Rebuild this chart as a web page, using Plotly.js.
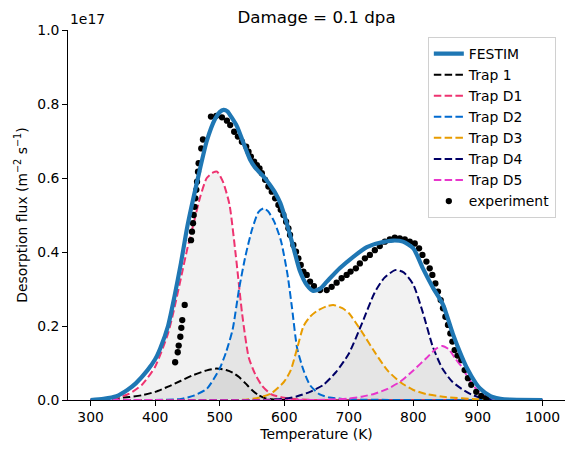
<!DOCTYPE html>
<html>
<head>
<meta charset="utf-8">
<script src="https://cdn.plot.ly/plotly-3.0.1.min.js"></script>
<style>html,body{margin:0;padding:0;background:#fff;}#chart{width:575px;height:453px;}</style>
</head>
<body>
<div id="chart"></div>
<script>
// values in units of 1e17 m^-2 s^-1
const festimT = [300,320,340,357,370,388,400,408,420,430,440,450,465,480,493,500,506,512,518,527,537,547,555,563,570,578,586,594,604,614,624,635,645,655,666,686,707,728,748,769,784,800,815,830,846,861,872,882,897,903,918,923,935,950,1000];
const festimY = [0,0.003,0.01,0.027,0.045,0.08,0.11,0.14,0.2,0.28,0.37,0.47,0.59,0.70,0.76,0.778,0.784,0.78,0.765,0.739,0.694,0.65,0.628,0.613,0.6,0.581,0.56,0.532,0.477,0.414,0.35,0.311,0.295,0.3,0.32,0.356,0.387,0.413,0.425,0.431,0.428,0.41,0.355,0.305,0.258,0.18,0.13,0.09,0.045,0.032,0.012,0.008,0.003,0.001,0];

const trap1T = [300,320,340,360,380,400,420,440,460,480,495,510,520,530,540,550,560,570,580,600,1000];
const trap1Y = [0.0005,0.002,0.005,0.008,0.013,0.022,0.036,0.052,0.068,0.08,0.085,0.081,0.074,0.062,0.045,0.027,0.013,0.005,0.002,0,0];

const trapD1T = [300,320,340,360,380,400,420,430,440,450,460,470,480,490,496,505,515,525,535,545,555,565,580,600,620,650,1000];
const trapD1Y = [0,0.001,0.005,0.017,0.042,0.09,0.18,0.25,0.33,0.41,0.48,0.55,0.6,0.615,0.617,0.59,0.53,0.39,0.23,0.115,0.07,0.04,0.015,0.006,0.002,0,0];

const trapD2T = [300,400,440,460,480,500,510,520,530,540,550,560,568,575,585,595,605,612,620,630,640,655,670,690,720,800,1000];
const trapD2Y = [0,0,0.003,0.012,0.03,0.085,0.13,0.19,0.3,0.39,0.46,0.508,0.518,0.51,0.48,0.43,0.34,0.25,0.14,0.08,0.04,0.015,0.007,0.003,0.001,0,0];

const trapD3T = [300,540,560,580,600,610,620,630,640,650,665,676,690,700,720,740,760,780,800,820,850,900,950,1000];
const trapD3Y = [0,0.001,0.006,0.018,0.05,0.08,0.14,0.2,0.225,0.24,0.253,0.257,0.248,0.235,0.185,0.13,0.08,0.048,0.027,0.016,0.008,0.002,0,0];

const trapD4T = [300,560,600,620,640,660,680,700,720,740,755,772,785,800,815,830,845,860,875,890,905,920,950,1000];
const trapD4Y = [0,0,0.003,0.01,0.022,0.04,0.075,0.125,0.205,0.29,0.33,0.351,0.345,0.312,0.235,0.145,0.085,0.05,0.03,0.015,0.006,0.002,0,0];

const trapD5T = [300,650,680,700,720,740,760,780,800,820,835,845,855,865,875,885,895,905,915,930,950,1000];
const trapD5Y = [0,0,0.002,0.004,0.009,0.017,0.03,0.05,0.08,0.113,0.138,0.146,0.137,0.112,0.09,0.06,0.035,0.016,0.007,0.002,0,0];

const expT = [431,435,436.5,439,440.6,442,445.8,455.6,457.1,458.7,459.7,461.2,462.3,463.8,464.9,466.4,467.4,471.5,474.1,486.5,494.7,503.5,511.2,516.3,522.5,528.2,534.4,541.1,544.7,548.3,553.4,557.6,561.7,565.3,570.4,575.5,580.7,585.9,591,594.6,598.7,602.9,606.5,609,614.2,618.3,621.9,625.6,629.7,634.9,640,646,655.4,665.8,673.5,681.2,688.9,696.7,702.8,711,717.2,725,732.7,740.4,748.1,755.9,763.6,771.3,779,786.8,794.5,802.2,808.9,814.1,820.3,825.4,829.5,834.2,838.2,842.4,846,849.7,853.7,857.4,860.5,864,868.5,874.3,879.5,884.6,889.8,897.5,905.3,913];
const expY = [0.102,0.129,0.147,0.171,0.195,0.216,0.257,0.432,0.455,0.478,0.5,0.522,0.545,0.568,0.59,0.617,0.64,0.68,0.704,0.766,0.768,0.764,0.755,0.743,0.725,0.712,0.698,0.685,0.671,0.658,0.644,0.635,0.626,0.613,0.595,0.577,0.563,0.545,0.527,0.514,0.5,0.482,0.464,0.446,0.419,0.401,0.383,0.365,0.347,0.338,0.32,0.308,0.297,0.297,0.306,0.317,0.329,0.338,0.347,0.356,0.369,0.383,0.392,0.405,0.416,0.428,0.434,0.439,0.437,0.434,0.428,0.423,0.41,0.392,0.374,0.356,0.338,0.315,0.293,0.27,0.248,0.225,0.203,0.18,0.158,0.135,0.12,0.108,0.081,0.059,0.041,0.022,0.011,0.005];

const xTicks = [300,400,500,600,700,800,900,1000];
const yTicks = [0,0.2,0.4,0.6,0.8,1.0];

const traps = [
  {name:'Trap 1', x:trap1T, y:trap1Y, color:'#000000'},
  {name:'Trap D1', x:trapD1T, y:trapD1Y, color:'#ee3370'},
  {name:'Trap D2', x:trapD2T, y:trapD2Y, color:'#006ad0'},
  {name:'Trap D3', x:trapD3T, y:trapD3Y, color:'#e89c00'},
  {name:'Trap D4', x:trapD4T, y:trapD4Y, color:'#000066'},
  {name:'Trap D5', x:trapD5T, y:trapD5Y, color:'#e836cc'}
];

const data = [];
traps.forEach(t => {
  data.push({x:t.x, y:t.y, type:'scatter', mode:'lines', fill:'tozeroy',
    fillcolor:'rgba(0,0,0,0.05)', line:{width:0, shape:'spline', smoothing:0.6}, showlegend:false, hoverinfo:'skip'});
});
traps.forEach((t,i) => {
  data.push({x:t.x, y:t.y, type:'scatter', mode:'lines', name:t.name, legendrank:2+i,
    line:{color:t.color, width:2, dash:'7.5px,3.3px', shape:'spline', smoothing:0.6}});
});
data.push({x:expT, y:expY, type:'scatter', mode:'markers', name:'experiment', legendrank:10,
  marker:{color:'#000000', size:6.3}});
data.push({x:festimT, y:festimY, type:'scatter', mode:'lines', name:'FESTIM', legendrank:1,
  line:{color:'#1f77b4', width:4.2, shape:'spline', smoothing:0.6}});

const font = 'DejaVu Sans, sans-serif';
const fs = 13.9;
const layout = {
  width:575, height:453,
  margin:{l:68, r:10, t:30, b:53},
  paper_bgcolor:'#fff', plot_bgcolor:'#fff',
  font:{family:font, size:fs, color:'#000'},
  title:{text:'Damage = 0.1 dpa', font:{family:font, size:16.7, color:'#000'}, x:0.5505, xanchor:'center', y:0.962, yanchor:'middle'},
  xaxis:{range:[265,1035], tickvals:xTicks, ticktext:xTicks.map(String), showgrid:false, zeroline:false,
    showline:true, linecolor:'#000', linewidth:1, ticks:'outside', ticklen:4.8, tickcolor:'#000',
    tickfont:{family:font, size:fs},
    title:{text:'Temperature (K)', font:{family:font, size:fs}, standoff:4}},
  yaxis:{range:[0,1.0], tickvals:yTicks, ticktext:yTicks.map(v=>v.toFixed(1)), showgrid:false, zeroline:false,
    showline:true, linecolor:'#000', linewidth:1, ticks:'outside', ticklen:4.8, tickcolor:'#000',
    tickfont:{family:font, size:fs},
    title:{text:'Desorption flux (m<sup>\u22122</sup> s<sup>\u22121</sup>)', font:{family:font, size:fs}, standoff:6}},
  legend:{x:0.724, xanchor:'left', y:0.981, yanchor:'top', bgcolor:'rgba(255,255,255,0.8)',
    bordercolor:'#d0d0d0', borderwidth:1, font:{family:font, size:fs}, tracegroupgap:0},
  annotations:[{text:'1e17', xref:'paper', yref:'paper', x:0, y:1, xanchor:'left', yanchor:'bottom', yshift:1,
    showarrow:false, font:{family:font, size:fs, color:'#000'}}]
};
Plotly.newPlot('chart', data, layout, {displayModeBar:false, staticPlot:true});
</script>
</body>
</html>
